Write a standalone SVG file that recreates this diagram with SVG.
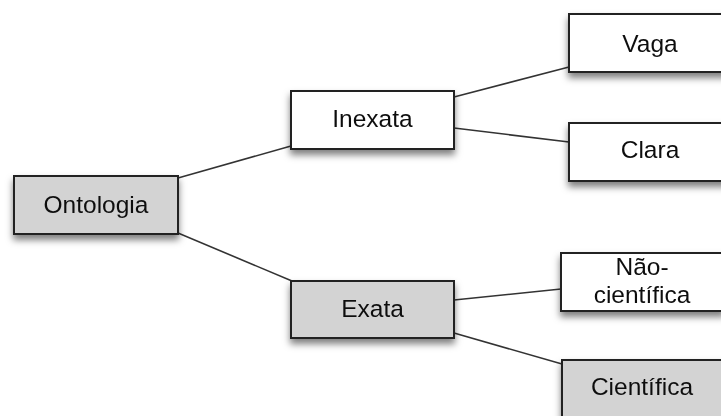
<svg xmlns="http://www.w3.org/2000/svg" width="721" height="416" viewBox="0 0 721 416">
  <defs>
    <filter id="shadow" x="-20%" y="-30%" width="140%" height="180%">
      <feDropShadow dx="0" dy="5" stdDeviation="3.5" flood-color="#000" flood-opacity="0.5"/>
    </filter>
  </defs>
  <style>
    .box { stroke: #222; stroke-width: 2; }
    .plain { fill: #ffffff; }
    .shaded { fill: #d3d3d3; }
    .label { font-family: "Liberation Sans", Arial, Helvetica, sans-serif; font-size: 24.5px; fill: #111; text-anchor: middle; }
    .edge { stroke: #333; stroke-width: 1.6; fill: none; }
  </style>
  <rect width="721" height="416" fill="#ffffff"/>

  <g id="connectors">
    <line class="edge" x1="178" y1="178" x2="291" y2="146"/>
    <line class="edge" x1="178" y1="233" x2="292" y2="281"/>
    <line class="edge" x1="454" y1="97" x2="569" y2="67"/>
    <line class="edge" x1="454" y1="128" x2="569" y2="142"/>
    <line class="edge" x1="454" y1="300" x2="561" y2="289"/>
    <line class="edge" x1="454" y1="333" x2="562" y2="364"/>
  </g>

  <g id="ontologia" filter="url(#shadow)">
    <rect class="box shaded" x="14" y="176" width="164" height="58"/>
    <text class="label" x="96" y="213">Ontologia</text>
  </g>

  <g id="inexata" filter="url(#shadow)">
    <rect class="box plain" x="291" y="91" width="163" height="58"/>
    <text class="label" x="372.5" y="127">Inexata</text>
  </g>

  <g id="exata" filter="url(#shadow)">
    <rect class="box shaded" x="291" y="281" width="163" height="57"/>
    <text class="label" x="372.5" y="317">Exata</text>
  </g>

  <g id="vaga" filter="url(#shadow)">
    <rect class="box plain" x="569" y="14" width="163" height="58"/>
    <text class="label" x="650" y="52">Vaga</text>
  </g>

  <g id="clara" filter="url(#shadow)">
    <rect class="box plain" x="569" y="123" width="163" height="58"/>
    <text class="label" x="650" y="158">Clara</text>
  </g>

  <g id="nao-cientifica" filter="url(#shadow)">
    <rect class="box plain" x="561" y="253" width="163" height="58"/>
    <text class="label" x="642" y="275">Não-</text>
    <text class="label" x="642" y="303">científica</text>
  </g>

  <g id="cientifica" filter="url(#shadow)">
    <rect class="box shaded" x="562" y="360" width="163" height="58"/>
    <text class="label" x="642" y="395">Científica</text>
  </g>
</svg>
